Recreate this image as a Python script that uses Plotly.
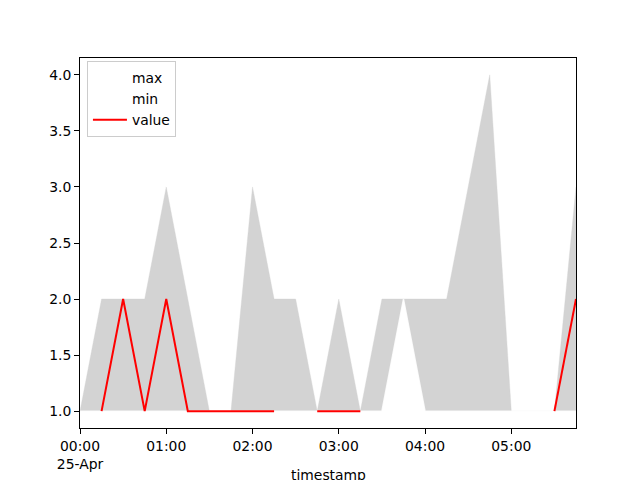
import plotly.graph_objects as go
import pandas as pd

# data: 15-minute samples starting 25-Apr 00:00
timestamps = pd.date_range("2021-04-25 00:00", periods=24, freq="15min")
max_values = [1, 2, 2, 2, 3, 2, 1, 1, 3, 2, 2, 1, 2, 1, 2, 2, 2, 2, 3, 4, 1, 1, 1, 3]
min_values = [1, 1, 1, 1, 1, 1, 1, 1, 1, 1, 1, 1, 1, 1, 1, 2, 1, 1, 1, 1, 1, 1, 1, 1]
value_values = [None, 1, 2, 1, 2, 1, 1, 1, 1, 1, None, 1, 1, 1,
                None, None, None, None, None, None, None, None, 1, 2]

tick_times = pd.date_range("2021-04-25 00:00", periods=6, freq="60min")
tick_labels = ["00:00<br>25-Apr", "01:00", "02:00", "03:00", "04:00", "05:00"]
y_ticks = [1.0, 1.5, 2.0, 2.5, 3.0, 3.5, 4.0]

FONT = "DejaVu Sans"
FS = 13.9

fig = go.Figure()

# white lines (legend entries)
fig.add_trace(go.Scatter(x=timestamps, y=max_values, mode="lines", name="max",
                         line=dict(color="white", width=2)))
fig.add_trace(go.Scatter(x=timestamps, y=min_values, mode="lines", name="min",
                         line=dict(color="white", width=2)))

# filled band between min and max
fig.add_trace(go.Scatter(x=timestamps, y=min_values, mode="lines",
                         line=dict(width=0, color="rgba(0,0,0,0)"),
                         showlegend=False, hoverinfo="skip"))
fig.add_trace(go.Scatter(x=timestamps, y=max_values, mode="lines",
                         line=dict(width=0.6, color="rgba(211,211,211,0.6)"),
                         fill="tonexty", fillcolor="#d3d3d3",
                         showlegend=False, hoverinfo="skip"))

# min edge stays visible as a thin light strip over the fill
fig.add_trace(go.Scatter(x=timestamps, y=min_values, mode="lines",
                         line=dict(color="rgba(255,255,255,0.85)", width=1.5),
                         showlegend=False, hoverinfo="skip"))

fig.add_trace(go.Scatter(x=timestamps, y=value_values, mode="lines", name="value",
                         line=dict(color="red", width=2), connectgaps=False))

# the page body adds an 8px offset; margins compensate so the plot area
# sits at the same window pixels as the reference
fig.update_layout(
    width=640, height=480,
    margin=dict(l=72, r=72, t=50, b=60, pad=0),
    paper_bgcolor="white", plot_bgcolor="white",
    font=dict(family=FONT, size=FS, color="black"),
    showlegend=True,
    legend=dict(x=0.014, y=0.992, xanchor="left", yanchor="top",
                traceorder="normal",
                bgcolor="rgba(255,255,255,0.8)", bordercolor="#cccccc",
                borderwidth=1, font=dict(family=FONT, size=FS),
                itemwidth=34, tracegroupgap=0),
    xaxis=dict(
        type="date",
        range=[timestamps[0], timestamps[-1]],
        tickvals=list(tick_times), ticktext=tick_labels,
        showgrid=False, zeroline=False,
        showline=True, linecolor="black", linewidth=1, mirror=True,
        ticks="outside", ticklen=5, tickcolor="black", tickwidth=1,
        tickfont=dict(family=FONT, size=FS),
    ),
    yaxis=dict(
        range=[0.85, 4.15],
        tickvals=y_ticks, tickformat=".1f",
        showgrid=False, zeroline=False,
        showline=True, linecolor="black", linewidth=1, mirror=True,
        ticks="outside", ticklen=5, tickcolor="black", tickwidth=1,
        tickfont=dict(family=FONT, size=FS),
    ),
    annotations=[dict(text="timestamp", xref="paper", yref="paper",
                      x=0.5, y=-0.10, xanchor="center", yanchor="top",
                      showarrow=False, font=dict(family=FONT, size=FS))],
)

fig.write_html("out.html")
